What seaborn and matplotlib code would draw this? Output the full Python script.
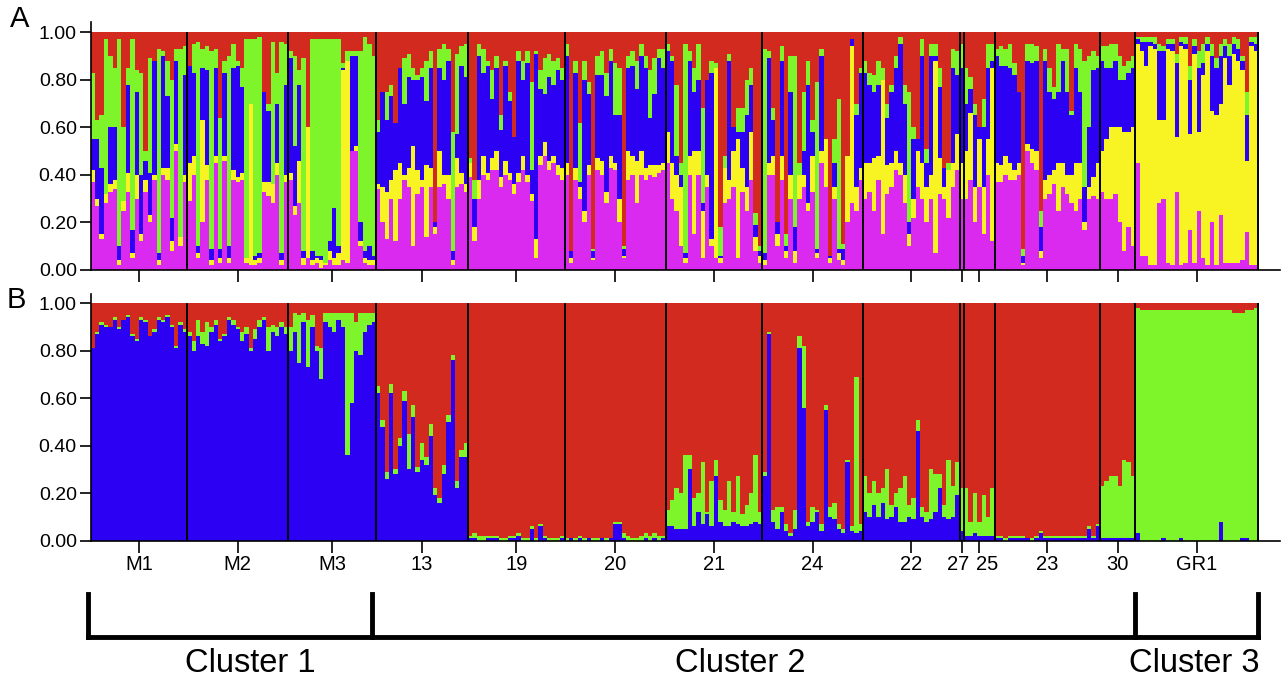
import numpy as np
import pandas as pd
import matplotlib.pyplot as plt
import seaborn as sns
from matplotlib.transforms import ScaledTranslation

sns.set_style("ticks")
plt.rcParams['font.family'] = ['Liberation Sans', 'DejaVu Sans']
plt.rcParams['text.color'] = 'black'
plt.rcParams['xtick.color'] = 'black'
plt.rcParams['ytick.color'] = 'black'

# populations, left to right
POPS = ["M1", "M2", "M3", "13", "19", "20", "21", "24", "22", "27", "25", "23", "30", "GR1"]
CLUSTER_NAMES = ["Cluster 1", "Cluster 2", "Cluster 3"]
CLUSTER_NPOPS = [3, 10, 1]

# Panel A (K=5): membership in %, one sublist per population; red = remainder
A_MAGENTA = [
    [37, 27, 13, 28, 33, 34, 2, 25, 33, 5, 30, 12, 33, 20, 38, 2, 40, 38, 8, 50, 10, 37],
    [29, 40, 5, 20, 38, 2, 45, 3, 46, 3, 38, 37, 38, 3, 2, 2, 3, 33, 31, 28, 40, 2, 37],
    [38, 23, 28, 2, 5, 2, 3, 1, 2, 4, 2, 2, 4, 3, 50, 50, 10, 3, 2, 2],
    [34, 20, 13, 30, 12, 30, 38, 35, 10, 32, 35, 14, 35, 15, 35, 36, 30, 2, 35, 36, 33],
    [39, 12, 30, 40, 38, 42, 42, 35, 40, 38, 32, 37, 42, 37, 29, 5, 44, 48, 42, 45, 40, 38],
    [40, 3, 38, 30, 20, 40, 4, 42, 40, 28, 43, 42, 20, 5, 38, 40, 28, 40, 38, 40, 39, 41, 42],
    [45, 30, 25, 10, 3, 40, 15, 40, 5, 35, 10, 5, 3, 28, 30, 35, 5, 33, 25, 38, 8, 3],
    [2, 40, 40, 10, 38, 5, 30, 3, 30, 35, 25, 33, 5, 45, 35, 3, 30, 4, 2, 20, 28, 25, 38],
    [30, 33, 25, 38, 15, 32, 35, 42, 40, 28, 10, 22, 35, 30, 20, 30, 7, 32, 30, 22, 35, 42],
    [30],
    [30, 38, 20, 35, 15, 40, 12],
    [37, 37, 40, 38, 38, 40, 2, 50, 45, 42, 5, 30, 32, 36, 25, 35, 32, 28, 25, 30, 17, 30, 31, 30],
    [33, 30, 30, 32, 20, 8, 18, 10],
    [45, 6, 6, 2, 2, 28, 30, 3, 2, 33, 2, 3, 17, 3, 25, 5, 2, 20, 2, 23, 3, 3, 3, 3, 4, 16, 2, 2],
]
A_YELLOW = [
    [5, 3, 2, 4, 3, 4, 2, 4, 8, 2, 10, 3, 5, 3, 2, 2, 3, 5, 4, 3, 4, 3],
    [16, 8, 2, 43, 6, 2, 3, 2, 2, 2, 4, 2, 3, 2, 68, 2, 2, 4, 6, 8, 5, 2, 3],
    [3, 4, 18, 3, 55, 2, 2, 3, 1, 4, 3, 5, 80, 85, 0, 2, 2, 2, 2, 2],
    [2, 15, 20, 8, 30, 15, 2, 8, 42, 10, 3, 30, 8, 3, 15, 4, 10, 2, 12, 5, 3],
    [6, 6, 8, 8, 3, 5, 8, 4, 6, 3, 4, 4, 6, 3, 3, 8, 4, 6, 4, 3, 4, 5],
    [5, 2, 5, 5, 5, 4, 1, 5, 6, 5, 5, 3, 10, 1, 12, 8, 18, 10, 5, 4, 5, 3, 3],
    [13, 15, 15, 25, 2, 8, 35, 10, 20, 5, 3, 80, 2, 15, 8, 15, 50, 10, 10, 20, 6, 3],
    [2, 5, 8, 5, 10, 3, 10, 5, 10, 5, 3, 15, 2, 5, 20, 2, 5, 3, 2, 28, 66, 10, 5],
    [15, 12, 22, 10, 65, 12, 10, 8, 5, 12, 5, 8, 15, 15, 15, 10, 81, 15, 5, 20, 10, 15],
    [15],
    [20, 28, 15, 20, 20, 15, 73],
    [8, 7, 8, 7, 4, 5, 1, 3, 6, 8, 3, 8, 8, 6, 20, 10, 8, 12, 20, 15, 3, 5, 8, 15],
    [17, 25, 30, 28, 40, 50, 40, 50],
    [50, 86, 80, 92, 91, 35, 33, 90, 90, 23, 92, 90, 40, 88, 33, 77, 90, 47, 63, 47, 86, 75, 88, 85, 80, 30, 92, 90],
]
A_BLUE = [
    [13, 25, 28, 0, 24, 22, 6, 0, 37, 10, 35, 25, 8, 18, 48, 3, 47, 30, 10, 35, 0, 42],
    [41, 35, 3, 22, 40, 5, 37, 4, 35, 5, 43, 47, 36, 0, 0, 2, 2, 38, 30, 0, 25, 3, 38],
    [48, 25, 32, 3, 0, 4, 1, 2, 0, 4, 21, 3, 1, 0, 40, 38, 8, 3, 6, 2],
    [22, 40, 30, 35, 20, 40, 30, 38, 28, 38, 43, 27, 42, 2, 35, 40, 48, 4, 10, 45, 45],
    [0, 12, 52, 35, 45, 25, 35, 20, 40, 30, 20, 47, 32, 47, 10, 78, 28, 20, 35, 30, 40, 37],
    [45, 3, 40, 2, 55, 30, 3, 35, 36, 40, 40, 20, 35, 3, 35, 38, 30, 40, 42, 20, 30, 45, 40],
    [34, 43, 8, 5, 2, 40, 25, 30, 3, 40, 70, 0, 1, 0, 50, 10, 3, 15, 30, 20, 5, 2],
    [3, 44, 15, 5, 40, 2, 35, 10, 0, 10, 50, 10, 2, 40, 0, 1, 10, 2, 5, 0, 3, 30, 40],
    [38, 33, 28, 30, 0, 20, 30, 35, 50, 30, 5, 25, 5, 45, 10, 50, 2, 30, 8, 0, 40, 25],
    [40],
    [20, 10, 30, 5, 25, 30, 3],
    [45, 42, 38, 40, 40, 30, 3, 35, 36, 38, 10, 50, 35, 30, 30, 43, 35, 25, 40, 30, 15, 25, 45, 40],
    [38, 30, 25, 28, 20, 22, 25, 25],
    [2, 4, 10, 2, 2, 29, 29, 2, 3, 31, 2, 2, 23, 3, 27, 5, 3, 23, 20, 20, 5, 12, 4, 5, 4, 19, 2, 3],
]
A_GREEN = [
    [28, 8, 22, 65, 30, 25, 87, 31, 7, 80, 9, 43, 4, 48, 0, 86, 2, 15, 58, 5, 79, 12],
    [0, 12, 86, 8, 10, 83, 8, 55, 5, 80, 10, 2, 8, 92, 27, 91, 91, 0, 3, 60, 13, 89, 17],
    [3, 38, 6, 81, 0, 89, 91, 91, 94, 85, 71, 87, 2, 4, 2, 2, 72, 90, 85, 84],
    [5, 0, 12, 5, 0, 0, 19, 10, 5, 2, 4, 17, 7, 0, 8, 15, 5, 50, 34, 8, 14],
    [2, 8, 5, 10, 2, 12, 5, 6, 2, 4, 0, 4, 8, 5, 37, 1, 8, 15, 10, 10, 5, 5],
    [5, 0, 5, 25, 8, 5, 1, 8, 10, 10, 5, 22, 20, 1, 5, 6, 12, 5, 5, 20, 15, 4, 8],
    [3, 2, 30, 5, 88, 4, 10, 15, 40, 0, 5, 2, 12, 5, 3, 0, 10, 10, 15, 7, 5, 2],
    [86, 3, 5, 0, 6, 5, 15, 72, 5, 25, 10, 5, 70, 3, 0, 0, 10, 63, 2, 0, 0, 5, 2],
    [5, 5, 7, 10, 5, 6, 3, 5, 3, 8, 55, 5, 0, 7, 6, 5, 5, 8, 0, 3, 8, 10],
    [10],
    [15, 5, 5, 0, 12, 10, 7],
    [3, 8, 7, 10, 5, 0, 3, 7, 8, 6, 7, 5, 10, 5, 20, 5, 18, 2, 10, 18, 53, 30, 8, 5],
    [6, 9, 10, 7, 10, 6, 5, 5],
    [1, 2, 2, 2, 3, 3, 2, 2, 2, 4, 2, 3, 6, 3, 7, 8, 3, 5, 4, 5, 3, 5, 3, 4, 2, 10, 2, 3],
]

# Panel B (K=3): membership in %, red = remainder
B_BLUE = [
    [81, 87, 91, 90, 90, 93, 89, 93, 94, 86, 84, 93, 92, 86, 88, 93, 92, 94, 90, 81, 91, 88],
    [86, 80, 86, 83, 82, 88, 91, 84, 86, 93, 91, 89, 84, 87, 80, 85, 90, 93, 80, 88, 86, 90, 87],
    [80, 88, 75, 92, 73, 90, 80, 68, 92, 90, 88, 93, 90, 36, 58, 80, 78, 88, 91, 92],
    [62, 48, 26, 62, 28, 40, 59, 30, 52, 29, 34, 32, 44, 19, 16, 28, 50, 76, 22, 35, 35],
    [1, 1, 0, 0, 1, 1, 1, 0, 0, 1, 1, 2, 0, 0, 5, 0, 6, 1, 0, 0, 0, 1],
    [0, 1, 0, 1, 0, 1, 0, 0, 1, 0, 1, 7, 7, 1, 0, 0, 0, 0, 1, 0, 1, 0, 1],
    [6, 6, 5, 5, 5, 30, 6, 12, 7, 11, 6, 27, 8, 6, 6, 8, 7, 6, 6, 7, 8, 7],
    [27, 87, 8, 5, 12, 4, 2, 5, 81, 56, 6, 8, 12, 4, 55, 10, 9, 5, 3, 33, 4, 3, 4],
    [12, 10, 15, 10, 16, 9, 10, 14, 8, 8, 10, 9, 46, 10, 8, 9, 12, 22, 10, 9, 10, 19],
    [4],
    [2, 2, 3, 2, 2, 2, 2],
    [1, 1, 0, 1, 1, 1, 1, 1, 0, 1, 3, 1, 1, 1, 1, 1, 1, 1, 1, 1, 1, 5, 1, 6],
    [1, 1, 1, 1, 1, 1, 1, 1],
    [3, 0, 0, 0, 0, 0, 1, 0, 0, 0, 1, 0, 0, 0, 0, 0, 0, 0, 0, 8, 0, 0, 0, 0, 1, 1, 0, 0],
]
B_GREEN = [
    [0, 1, 1, 1, 0, 1, 1, 0, 1, 1, 1, 1, 1, 0, 1, 1, 1, 1, 1, 1, 1, 1],
    [2, 4, 7, 5, 10, 2, 2, 1, 1, 1, 2, 1, 4, 3, 1, 4, 3, 1, 10, 3, 4, 2, 3],
    [10, 8, 20, 4, 20, 5, 2, 13, 4, 6, 8, 3, 6, 60, 38, 12, 18, 8, 5, 4],
    [3, 3, 3, 4, 2, 3, 4, 15, 5, 2, 7, 3, 5, 3, 2, 4, 3, 2, 3, 3, 6],
    [1, 2, 2, 2, 1, 1, 1, 1, 1, 1, 1, 1, 1, 1, 1, 1, 1, 1, 1, 1, 1, 1],
    [1, 0, 1, 1, 1, 0, 1, 1, 0, 1, 0, 1, 1, 2, 2, 1, 1, 2, 2, 2, 2, 2, 1],
    [7, 11, 17, 15, 31, 6, 12, 8, 26, 1, 19, 7, 9, 7, 19, 4, 20, 5, 9, 13, 28, 5],
    [2, 1, 5, 9, 2, 3, 1, 8, 5, 26, 2, 6, 1, 3, 2, 4, 7, 2, 2, 1, 2, 66, 3],
    [15, 10, 10, 10, 6, 21, 5, 6, 14, 19, 5, 9, 5, 4, 4, 21, 16, 6, 5, 25, 13, 14],
    [18],
    [20, 6, 17, 6, 17, 8, 20],
    [1, 1, 1, 1, 1, 1, 1, 0, 1, 1, 1, 1, 1, 1, 1, 1, 1, 1, 1, 1, 1, 1, 1, 1],
    [22, 24, 26, 26, 22, 33, 32, 26],
    [95, 97, 97, 97, 97, 97, 96, 97, 97, 97, 96, 97, 97, 97, 97, 97, 97, 97, 97, 89, 97, 97, 96, 96, 95, 96, 97, 98],
]

COLORS = {"red": "#D22A1E", "green": "#7EF42B", "blue": "#2C00F3",
          "yellow": "#F8F322", "magenta": "#DB2AF0"}


def long_table(parts, names):
    # one row per individual and cluster; the last cluster gets what is left
    rows = []
    ind = 0
    for p, pop in enumerate(POPS):
        for i in range(len(parts[0][p])):
            q = [part[p][i] / 100 for part in parts]
            q.append(max(0.0, 1 - sum(q)))
            for name, v in zip(names, q):
                rows.append((ind, pop, name, v))
            ind += 1
    return pd.DataFrame(rows, columns=["ind", "pop", "cluster", "q"])


df_a = long_table([A_MAGENTA, A_YELLOW, A_BLUE, A_GREEN], ["magenta", "yellow", "blue", "green", "red"])
df_b = long_table([B_BLUE, B_GREEN], ["blue", "green", "red"])

sizes = np.array([len(m) for m in A_MAGENTA])
edges = np.concatenate([[0], np.cumsum(sizes)]) - 0.5
centers = (edges[:-1] + edges[1:]) / 2
n = sizes.sum()

W, H = 1283, 684
fig = plt.figure(figsize=(W / 100, H / 100), dpi=100)
x0 = 90.7 / W
xw = (1280 - 90.7) / W
xmax = -0.5 + n * (1280 - 90.7) / (1258 - 90.7)

ax_a = fig.add_axes([x0, 1 - 270 / H, xw, (270 - 22) / H])
ax_b = fig.add_axes([x0, 1 - 540.5 / H, xw, (540.5 - 294) / H])

panels = [
    (ax_a, df_a, ["red", "green", "blue", "yellow", "magenta"], 1.043),
    (ax_b, df_b, ["red", "green", "blue"], 1.039),
]
for ax, df, order, ytop in panels:
    sns.histplot(data=df, x="ind", weights="q", hue="cluster", hue_order=order,
                 multiple="stack", discrete=True, shrink=1, palette=COLORS,
                 legend=False, linewidth=0, alpha=1, antialiased=False, ax=ax)
    ax.vlines(edges[1:], 0, 1, colors="black", linewidth=1.4, zorder=5)
    ax.set_xlim(-0.5, xmax)
    ax.set_ylim(0, ytop)
    ax.set_yticks([0, 0.2, 0.4, 0.6, 0.8, 1.0])
    ax.set_yticklabels([f"{v:.2f}" for v in [0, 0.2, 0.4, 0.6, 0.8, 1.0]])
    ax.set_xticks(centers)
    ax.set_xlabel("")
    ax.set_ylabel("")
    sns.despine(ax=ax)
    for s in ["left", "bottom"]:
        ax.spines[s].set_linewidth(1.2)
        ax.spines[s].set_color("black")
    ax.tick_params(axis="y", direction="out", length=8, width=1.2, pad=2, labelsize=14,
                   colors="black")
    ax.tick_params(axis="x", direction="out", length=8.5, width=1.2, pad=2, labelsize=14.5,
                   colors="black")

ax_a.set_xticklabels([])
ax_b.set_xticklabels(POPS)
# nudge the two crowded labels apart
for lab in ax_b.get_xticklabels():
    if lab.get_text() == "27":
        lab.set_transform(lab.get_transform() + ScaledTranslation(-4 / 100, 0, fig.dpi_scale_trans))
    if lab.get_text() == "25":
        lab.set_transform(lab.get_transform() + ScaledTranslation(8 / 100, 0, fig.dpi_scale_trans))

# cluster brackets
ax_c = fig.add_axes([x0, 0, xw, 102.6 / H])
ax_c.set_xlim(-0.5, xmax)
ax_c.set_ylim(0, 1)
ax_c.axis("off")
cl_edges = edges[np.concatenate([[0], np.cumsum(CLUSTER_NPOPS)])]
ax_c.hlines(0.458, cl_edges[0] - 0.6, cl_edges[-1], colors="black", linewidth=3.5,
            capstyle="projecting", clip_on=False)
ax_c.vlines(cl_edges + np.array([-0.6, -0.8, 0, 0]), 0.458, 0.877, colors="black",
            linewidth=3.5, capstyle="projecting", clip_on=False)
label_dx = [17, -15, -2]  # px, as placed in the original figure
for name, a, b, dx in zip(CLUSTER_NAMES, cl_edges[:-1], cl_edges[1:], label_dx):
    t = ax_c.text((a + b) / 2, 0.2, name, ha="center", va="center", fontsize=23.5)
    t.set_transform(t.get_transform() + ScaledTranslation(dx / 100, 0, fig.dpi_scale_trans))

fig.text(20 / W, 1 - 19 / H, "A", ha="center", va="center", fontsize=21)
fig.text(16 / W, 1 - 300 / H, "B", ha="center", va="center", fontsize=21)

fig.savefig("out.png", dpi=100)
